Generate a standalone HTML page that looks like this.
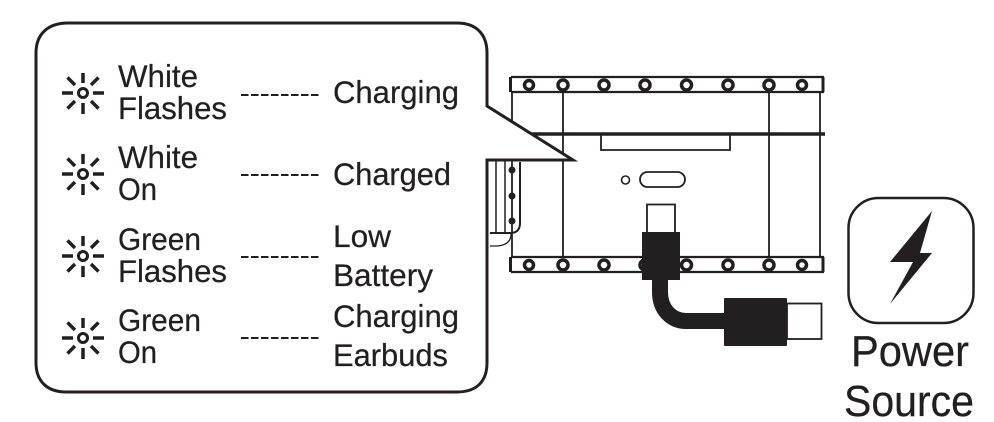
<!DOCTYPE html>
<html><head><meta charset="utf-8"><style>
html,body{margin:0;padding:0;background:#fff}
svg{display:block}
text{font-family:"Liberation Sans",sans-serif;fill:#231f20;font-size:31.5px;stroke:#231f20;stroke-width:.25px}
text.big{font-size:44px}
</style></head><body>
<svg width="994" height="422" viewBox="0 0 994 422" xmlns="http://www.w3.org/2000/svg">
<defs>
<g id="led" fill="none" stroke="#231f20" stroke-width="3.500">
<circle r="4.500" stroke-width="3"/>
<path d="M-21 0H-10M10 0H21M0-20V-10M0 10V21M-15.500-15.500L-8-8M15.500-15.500L8-8M-15.500 15.500L-8 8M15.500 15.500L8 8"/>
</g>
</defs>
<!-- device -->
<g fill="none" stroke="#231f20">
<path d="M511 77H824M511 92H824M511 257H824M511 272H824" stroke-width="2.200"/>
<path d="M512 92V257M563 92V257M769 92V257M820 92V257" stroke-width="1.800"/>
<path d="M510.500 77V92M510.500 257V272M823 257V272M823 77V92" stroke-width="3"/>
<path d="M512 134H825" stroke-width="3.500"/>
<path d="M601 134V150H730V134" stroke-width="1.800"/>
<circle cx="625.500" cy="180" r="4" stroke-width="1.600"/>
<rect x="640" y="172" width="45" height="15" rx="7.500" stroke-width="1.800"/>
<rect x="647" y="204.500" width="28" height="30" stroke-width="1.800"/>
<g stroke-width="3.500" fill="#fff">
<circle cx="529" cy="85" r="4.500"/><circle cx="563" cy="85" r="5"/><circle cx="604" cy="85" r="5"/><circle cx="645" cy="85" r="5"/><circle cx="686.500" cy="85" r="5"/><circle cx="728" cy="85" r="5"/><circle cx="769" cy="85" r="5"/><circle cx="802" cy="85" r="4.500"/>
<circle cx="529" cy="265" r="4.500"/><circle cx="563" cy="265" r="5"/><circle cx="604" cy="265" r="5"/><circle cx="645" cy="265" r="5"/><circle cx="686.500" cy="265" r="5"/><circle cx="728" cy="265" r="5"/><circle cx="769" cy="265" r="5"/><circle cx="802" cy="265" r="4.500"/>
</g>
<!-- cable -->
<rect x="787" y="303.500" width="34.500" height="35.500" stroke-width="1.800"/>
<path d="M660 270V292C660 310 672 321 686 321H730" stroke-width="16"/>
</g>
<rect x="642" y="232" width="38" height="48" fill="#231f20"/>
<rect x="724" y="298" width="63" height="48" rx="1" fill="#231f20"/>
<!-- bubble -->
<path d="M68 23H457C477 23 487 35 487 53V106L573 160H487V363C487 381 477 392 457 392H66C47 392 36 381 36 363V53C36 35 47 23 68 23Z" fill="#fff" stroke="#231f20" stroke-width="3"/>
<!-- earbud detail -->
<g fill="none" stroke="#231f20">
<path d="M496 161V233M505 161V233" stroke-width="1.500"/>
<path d="M520 162V223Q520 233 510 233H490" stroke-width="2"/>
<path d="M511 234Q511 245 497 246H490" stroke-width="1.300"/>
</g>
<g fill="#231f20"><circle cx="512" cy="170" r="3.500"/><circle cx="512" cy="196" r="3.500"/><circle cx="512" cy="221" r="3.500"/></g>
<!-- power -->
<rect x="848.500" y="198" width="125" height="125" rx="30" fill="none" stroke="#231f20" stroke-width="2.500"/>
<polygon points="932,211 890,262 913,262 890,304 932,253 920,253" fill="#231f20"/>
<text class="big" x="851" y="366" textLength="118" lengthAdjust="spacingAndGlyphs">Power</text>
<text class="big" x="844" y="416" textLength="130" lengthAdjust="spacingAndGlyphs">Source</text>
<!-- LEDs -->
<use href="#led" x="83" y="93"/><use href="#led" x="83" y="174"/><use href="#led" x="83" y="256"/><use href="#led" x="83" y="338"/>
<!-- dashes -->
<g stroke="#231f20" stroke-width="2" stroke-dasharray="7.500 2.500" fill="none">
<path d="M241 95H321M241 175H321M241 257H321M241 338H321"/>
</g>
<!-- labels -->
<text x="118" y="87" textLength="80" lengthAdjust="spacingAndGlyphs">White</text>
<text x="118" y="119" textLength="109" lengthAdjust="spacingAndGlyphs">Flashes</text>
<text x="118" y="168" textLength="80" lengthAdjust="spacingAndGlyphs">White</text>
<text x="118" y="200" textLength="39" lengthAdjust="spacingAndGlyphs">On</text>
<text x="118" y="250" textLength="83" lengthAdjust="spacingAndGlyphs">Green</text>
<text x="118" y="282" textLength="109" lengthAdjust="spacingAndGlyphs">Flashes</text>
<text x="118" y="331" textLength="83" lengthAdjust="spacingAndGlyphs">Green</text>
<text x="118" y="363" textLength="39" lengthAdjust="spacingAndGlyphs">On</text>
<text x="333" y="103" textLength="126" lengthAdjust="spacingAndGlyphs">Charging</text>
<text x="333" y="185" textLength="118" lengthAdjust="spacingAndGlyphs">Charged</text>
<text x="333" y="247" textLength="58" lengthAdjust="spacingAndGlyphs">Low</text>
<text x="333" y="286" textLength="100" lengthAdjust="spacingAndGlyphs">Battery</text>
<text x="333" y="327" textLength="126" lengthAdjust="spacingAndGlyphs">Charging</text>
<text x="333" y="366" textLength="115" lengthAdjust="spacingAndGlyphs">Earbuds</text>
</svg>
</body></html>
